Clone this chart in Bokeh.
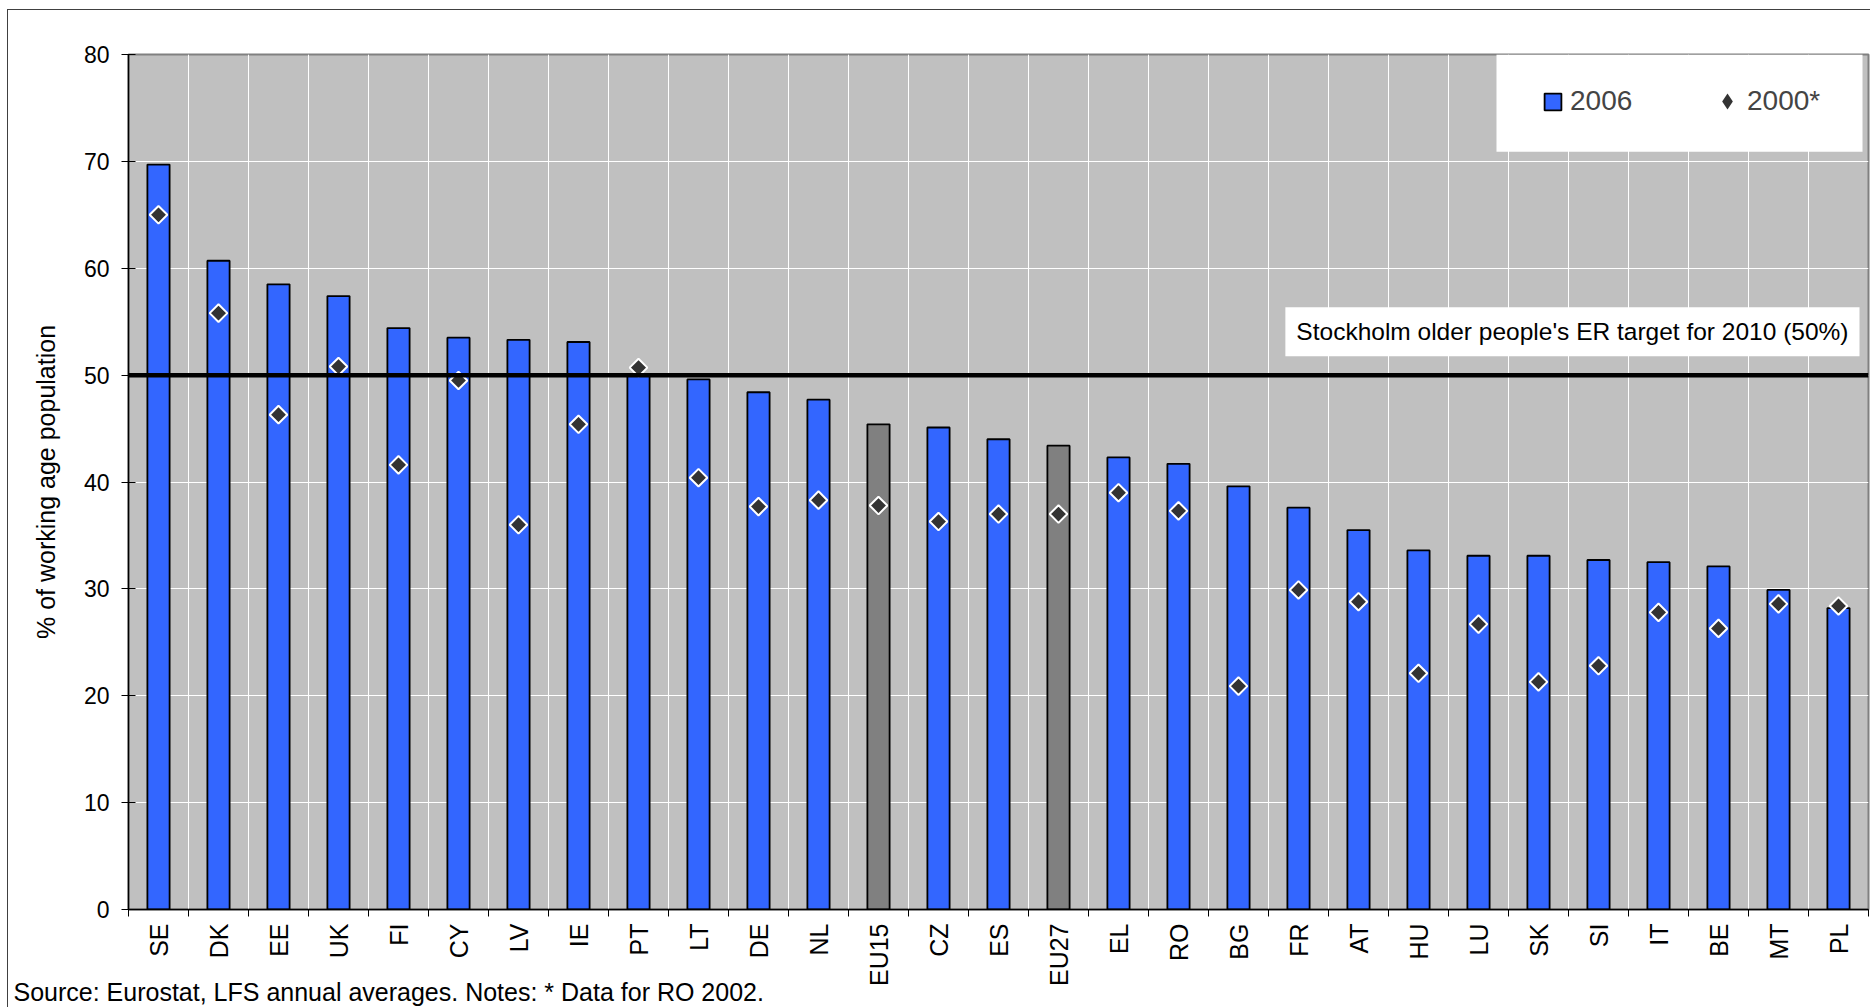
import numpy as np
from bokeh.plotting import figure
from bokeh.layouts import column
from bokeh.models import (ColumnDataSource, FixedTicker, CustomJSTickFormatter, Span, Label,
                          Legend, LegendItem, BoxAnnotation, Div)
from bokeh.embed import file_html
from bokeh.resources import INLINE

# Employment rate of older workers (55-64), % of working age population
countries = ["SE", "DK", "EE", "UK", "FI", "CY", "LV", "IE", "PT", "LT", "DE", "NL", "EU15", "CZ",
             "ES", "EU27", "EL", "RO", "BG", "FR", "AT", "HU", "LU", "SK", "SI", "IT", "BE", "MT", "PL"]
rate_2006 = [69.7, 60.7, 58.5, 57.4, 54.4, 53.5, 53.3, 53.1, 50.1, 49.6, 48.4, 47.7, 45.4, 45.1,
             44.0, 43.4, 42.3, 41.7, 39.6, 37.6, 35.5, 33.6, 33.1, 33.1, 32.7, 32.5, 32.1, 29.9, 28.2]
rate_2000 = [65.0, 55.8, 46.3, 50.8, 41.6, 49.5, 36.0, 45.4, 50.7, 40.4, 37.7, 38.3, 37.8, 36.3,
             37.0, 37.0, 39.0, 37.3, 20.9, 29.9, 28.8, 22.1, 26.7, 21.3, 22.8, 27.8, 26.3, 28.6, 28.4]
target_2010 = 50
y_ticks = [0, 10, 20, 30, 40, 50, 60, 70, 80]
source_note = "Source: Eurostat, LFS annual averages. Notes: * Data for RO 2002."

BLUE = "#3366FF"
GREY_BAR = "#808080"
FONT = "Liberation Sans"

n = len(countries)
centers = [i + 0.5 for i in range(n)]
bar_colors = [GREY_BAR if c.startswith("EU") else BLUE for c in countries]
src = ColumnDataSource(dict(x=centers, name=countries, v2006=rate_2006, v2000=rate_2000, color=bar_colors))

p = figure(width=1862, height=984, x_range=(0, n), y_range=(0, 80),
           output_backend="svg", toolbar_location=None,
           min_border_left=120, min_border_right=2, min_border_top=44, min_border_bottom=85)
p.background_fill_color = "#C0C0C0"
p.border_fill_color = "white"
p.outline_line_color = "#808080"
p.outline_line_width = 2

# gridlines: white, horizontal every 10, vertical between categories
p.ygrid.ticker = FixedTicker(ticks=y_ticks)
p.xgrid.ticker = FixedTicker(ticks=list(range(n + 1)))
for g in (p.xgrid, p.ygrid):
    g.grid_line_color = "white"
    g.grid_line_width = 1

# y axis
p.yaxis.ticker = FixedTicker(ticks=y_ticks)
p.yaxis.major_label_text_font = FONT
p.yaxis.major_label_text_font_size = "23px"
p.yaxis.major_label_text_color = "black"
p.yaxis.major_tick_in = 7
p.yaxis.major_tick_out = 7
p.yaxis.major_label_standoff = 12
p.yaxis.minor_tick_line_color = None
p.yaxis.axis_line_color = "black"
p.yaxis.axis_line_width = 1.5
p.yaxis.axis_label = "% of working age population"
p.yaxis.axis_label_text_font = FONT
p.yaxis.axis_label_text_font_size = "25px"
p.yaxis.axis_label_text_font_style = "normal"
p.yaxis.axis_label_text_color = "black"
p.yaxis.axis_label_standoff = 21

# x axis: labels at category centres, ticks at category boundaries
p.xaxis.ticker = FixedTicker(ticks=centers, minor_ticks=list(range(n + 1)))
p.xaxis.formatter = CustomJSTickFormatter(args=dict(names=countries),
                                          code="return names[Math.round(tick - 0.5)] || '';")
p.xaxis.major_label_orientation = np.pi / 2
p.xaxis.major_label_text_font = FONT
p.xaxis.major_label_text_font_size = "25px"
p.xaxis.major_label_text_color = "black"
p.xaxis.major_tick_line_color = None
p.xaxis.major_tick_in = 0
p.xaxis.major_tick_out = 7
p.xaxis.major_label_standoff = 7
p.xaxis.minor_tick_line_color = "black"
p.xaxis.minor_tick_in = 0
p.xaxis.minor_tick_out = 7
p.xaxis.axis_line_color = "black"
p.xaxis.axis_line_width = 1.5

# 2006 bars
bars = p.vbar(x="x", top="v2006", width=0.37, bottom=0, source=src,
              fill_color="color", line_color="black", line_width=1.8)

# target line
p.add_layout(Span(location=target_2010, dimension="width", line_color="black", line_width=4.5))

# 2000 values: dark diamonds with white outline
p.scatter(x="x", y="v2000", source=src, marker="square", angle=np.pi / 4, size=12.5,
          fill_color="#333333", line_color="white", line_width=2)

# same series as a plain diamond, used only for the legend swatch
legend_marker = p.scatter(x="x", y="v2000", source=src, marker="diamond", size=0,
                          fill_color="#333333", line_color=None)

# target label
p.add_layout(Label(x=28.85, y=54.05, text="Stockholm older people's ER target for 2010 (50%)",
                   text_align="right", text_baseline="middle",
                   text_font=FONT, text_font_size="24.5px", text_color="black",
                   background_fill_color="white", padding=11))

# legend panel
p.add_layout(BoxAnnotation(left=22.8, right=28.9, top=80, bottom=70.9,
                           fill_color="white", fill_alpha=1, line_color=None, level="annotation"))

leg_a = Legend(items=[LegendItem(label="2006", renderers=[bars])],
               location=(1410, 788), orientation="horizontal",
               glyph_width=21, glyph_height=21, label_standoff=7, padding=4, margin=0,
               label_text_font=FONT, label_text_font_size="28px",
               background_fill_alpha=0, border_line_alpha=0)
leg_b = Legend(items=[LegendItem(label="2000*", renderers=[legend_marker])],
               location=(1575, 784), orientation="horizontal",
               glyph_width=40, glyph_height=40, label_standoff=0, padding=4, margin=0,
               label_text_font=FONT, label_text_font_size="28px",
               background_fill_alpha=0, border_line_alpha=0)
p.add_layout(leg_a)
p.add_layout(leg_b)

# source note under the chart, tucked up beside the category labels
note = Div(text=source_note, width=1862, height=24, margin=(-11, 0, 0, 0),
           styles={"font-family": FONT, "font-size": "25px", "line-height": "18px",
                   "padding-left": "5.5px", "color": "black", "white-space": "nowrap"})

# the chart sits inside a thin frame offset from the page corner
layout = column(p, note, spacing=0)
layout.styles = {"margin-left": "7px", "margin-top": "9px",
                 "border-left": "1.5px solid #404040", "border-top": "1.5px solid #404040"}

open("out.html", "w").write(file_html(layout, INLINE))
